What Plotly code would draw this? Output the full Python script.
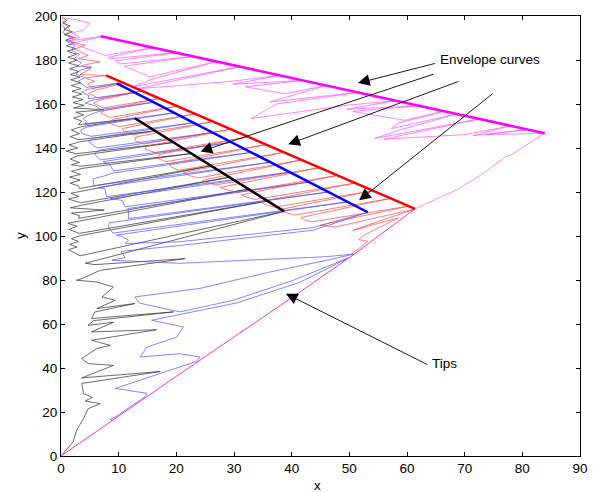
import plotly.graph_objects as go

# ---------------- data ----------------
x_ticks = [0, 10, 20, 30, 40, 50, 60, 70, 80, 90]
y_ticks = [0, 20, 40, 60, 80, 100, 120, 140, 160, 180, 200]

black_thin = [
    (0.2,199.5),(1.0,198.0),(0.3,196.8),(1.6,195.5),(0.5,194.0),(2.0,192.8),(0.6,191.5),(2.2,190.2),
    (0.8,189.0),(2.4,187.8),(0.9,186.5),(2.5,185.2),(1.1,184.0),(2.7,182.6),(1.2,181.3),(2.8,180.0),
    (1.3,178.6),(3.0,177.4),(1.5,176.0),(3.1,174.8),(1.6,173.4),(3.3,172.2),(1.7,171.0),(3.4,169.6),
    (1.8,168.4),(3.5,167.0),(1.9,165.8),(3.6,164.5),(2.0,163.2),(3.8,162.0),(2.1,160.6),(4.0,159.4),
    (2.2,158.2),(7.4,157.4),(2.6,156.3),(3.9,155.0),(2.2,153.6),(3.6,152.2),(3.0,150.6),(12.8,153.5),
    (3.4,149.6),(1.8,148.2),(3.2,146.5),(1.6,145.2),(3.0,143.8),(16.3,147.8),(3.2,142.8),(1.4,141.4),
    (2.9,140.0),(0.9,138.6),(2.6,137.4),(19.5,142.5),(2.8,136.4),(1.6,135.0),(3.2,133.4),(1.8,132.4),
    (3.4,131.7),(22.6,137.5),(3.6,130.7),(1.8,129.4),(3.4,128.0),(1.5,126.8),(3.3,125.4),(1.6,124.0),
    (3.0,122.8),(3.2,121.6),(26.0,131.9),(3.5,120.6),(1.7,119.4),(3.1,118.0),(1.3,116.8),(3.4,115.1),
    (29.2,126.7),(3.6,114.0),(1.6,112.8),(7.5,111.8),(1.8,110.4),(3.2,109.2),(3.0,108.0),(32.5,121.3),
    (3.2,107.0),(1.2,105.8),(2.8,104.4),(1.4,103.0),(3.2,101.2),(35.8,115.9),(3.4,100.2),(1.8,98.8),
    (3.0,97.5),(1.5,96.2),(2.8,95.0),(1.3,93.8),(3.3,91.0),(38.7,111.2),(4.2,87.6),(5.9,87.0),
    (21.5,89.7),(6.8,84.4),(3.6,80.6),(2.7,79.9),(6.2,79.1),(9.1,76.8),(7.1,72.3),(9.4,70.8),
    (6.2,67.0),(12.8,69.3),(5.9,65.5),(5.3,62.5),(19.5,65.5),(5.6,61.5),(4.7,59.4),(9.1,60.8),
    (5.3,56.4),(16.6,57.4),(5.3,52.6),(8.5,50.3),(6.2,48.8),(3.6,44.3),(4.7,42.0),(9.1,41.2),
    (3.6,35.5),(17.2,38.4),(3.6,33.0),(3.9,28.4),(5.4,26.6),(4.2,25.0),(6.8,23.8),(4.7,21.5),
    (3.9,17.0),(2.7,11.7),(2.1,6.4),(0.6,2.0),(0.0,0.0),
]

blue_thin = [
    (0.1,196.2),(0.8,194.0),(0.3,192.5),(1.6,190.5),(0.9,188.6),(2.4,186.6),(1.8,184.5),(3.2,182.5),
    (2.2,180.5),(3.6,178.8),(2.8,177.0),(5.3,176.8),(3.3,175.3),(2.6,173.6),(4.1,172.0),(3.0,170.4),
    (3.8,168.8),(4.4,167.5),(9.7,169.4),(4.6,166.6),(3.6,165.4),(4.8,163.8),(4.7,162.4),(12.8,165.2),
    (5.2,161.6),(4.2,160.4),(6.0,159.2),(6.8,157.5),(16.1,160.8),(6.6,156.6),(5.0,155.2),(3.8,153.4),
    (4.4,152.0),(4.2,150.6),(19.6,156.0),(4.6,149.6),(3.4,148.2),(3.6,146.6),(5.2,145.3),(23.0,151.5),
    (5.6,144.4),(4.8,143.0),(6.2,140.0),(26.3,147.0),(6.6,139.0),(5.8,137.4),(6.8,134.6),(29.6,142.6),
    (7.3,133.8),(8.4,132.6),(9.1,129.6),(33.0,138.0),(9.0,128.6),(7.4,127.2),(5.6,126.0),(5.6,122.8),
    (36.3,133.5),(6.4,122.0),(7.6,121.4),(7.9,117.9),(39.7,129.0),(8.6,117.0),(10.6,116.2),(11.1,113.3),
    (43.0,124.5),(11.6,112.5),(11.7,110.4),(11.7,107.9),(46.4,120.0),(11.0,107.0),(8.4,106.0),(8.2,104.2),
    (9.0,101.3),(49.7,115.5),(9.6,100.4),(10.5,99.8),(11.7,98.2),(11.2,96.6),(20.6,97.4),(43.7,103.8),
    (53.2,110.8),(43.7,102.6),(20.6,95.7),(10.4,93.0),(11.1,90.2),(8.8,89.0),(20.6,87.6),(46.0,90.6),
    (50.8,91.8),(46.5,89.2),(36.0,83.5),(24.1,76.2),(12.8,72.3),(13.6,69.5),(20.6,65.5),(29.9,70.8),
    (40.3,79.9),(49.8,90.0),(41.5,79.0),(30.5,69.6),(21.0,64.4),(15.7,61.7),(21.2,58.7),(20.1,54.1),
    (14.9,49.5),(13.7,45.0),(20.6,46.5),(24.1,45.0),(23.5,43.0),(20.6,40.5),(16.0,36.5),(9.4,30.7),
    (14.9,28.5),(14.6,27.0),(12.0,22.4),(9.4,17.6),(8.5,16.6),(9.0,16.2),
]

red_thin = [
    (0.2,198.5),(1.6,193.5),(0.8,191.5),(2.6,190.0),(1.4,188.5),(4.2,186.7),(2.4,185.0),(4.7,182.1),
    (3.0,180.6),(6.8,179.2),(3.6,177.5),(5.2,176.0),(3.3,173.4),(7.8,173.0),(4.2,171.8),(5.8,170.4),
    (4.6,169.0),(5.5,167.1),(10.9,169.5),(5.9,166.2),(4.8,164.8),(6.5,162.7),(14.0,166.0),(6.9,161.8),
    (5.6,160.4),(7.3,158.2),(17.0,162.5),(7.8,157.3),(6.9,155.8),(8.5,153.9),(20.1,159.0),(9.0,153.0),
    (8.2,151.4),(10.0,149.7),(23.2,155.5),(10.6,148.8),(11.0,147.4),(12.5,146.0),(26.3,152.0),(13.0,145.0),
    (12.8,143.4),(14.3,141.8),(29.3,148.5),(14.9,140.8),(14.6,139.4),(16.4,137.9),(32.4,145.0),(17.0,137.0),
    (16.8,135.4),(18.2,133.8),(35.5,141.5),(18.8,132.8),(19.0,131.4),(20.5,129.9),(38.6,138.0),(21.2,128.8),
    (22.0,127.6),(23.8,126.4),(41.6,134.5),(24.5,125.3),(25.2,124.4),(26.8,123.2),(44.7,131.0),(27.6,122.1),
    (28.8,121.0),(30.5,119.8),(47.8,127.5),(31.3,118.7),(32.0,117.8),(33.6,116.6),(50.9,124.0),(34.5,115.5),
    (35.4,114.3),(37.0,113.1),(53.9,120.5),(38.0,112.0),(38.8,110.8),(40.5,109.5),(57.0,117.0),(41.6,108.4),
    (42.2,107.4),(43.5,106.4),(60.1,113.5),(45.0,105.0),(47.5,104.0),(61.4,112.3),(50.6,102.6),(58.5,108.2),
    (52.8,100.8),(51.6,98.4),(53.2,97.6),(51.5,94.0),(50.4,92.2),
]

magenta_thin = [
    (0.2,199.3),(2.6,198.4),(5.0,196.6),(3.9,193.7),(1.9,192.2),(3.2,190.4),(1.2,188.6),(7.1,190.8),
    (2.0,187.6),(4.6,185.0),(7.6,182.1),(16.0,185.6),(8.2,181.2),(8.6,180.6),(20.0,183.3),(9.4,179.6),
    (10.2,178.2),(23.0,181.6),(11.0,177.2),(15.4,172.4),(27.0,179.3),(16.2,171.6),(12.3,167.7),(31.0,177.0),
    (13.5,167.0),(28.4,170.0),(38.0,173.0),(29.8,169.0),(42.0,170.7),(32.0,167.8),(38.8,164.7),(46.0,168.4),
    (39.6,163.6),(36.2,160.9),(51.5,165.3),(37.4,160.0),(33.0,153.4),(49.5,159.4),(58.0,161.5),(49.5,157.6),
    (62.0,159.2),(50.6,156.6),(59.6,152.6),(66.5,156.8),(58.6,151.4),(57.3,148.8),(68.6,155.5),(58.5,148.0),
    (54.4,144.3),(72.7,153.3),(56.0,144.0),(70.2,146.1),(78.0,150.1),(71.4,145.6),(81.0,148.4),(73.7,146.1),
    (83.9,146.7),(80.5,141.2),(78.1,137.4),(77.9,136.7),(77.3,136.4),(73.2,128.4),(69.0,121.5),(68.6,120.8),
    (68.2,120.5),(61.4,112.3),
]

tips_line = [(0.0,0.0),(20.6,37.3),(40.3,72.5),(51.0,92.0),(55.3,100.5),(61.4,112.3)]

env_magenta = [(6.9,190.8),(83.9,146.7)]
env_red = [(7.8,173.0),(61.4,112.3)]
env_blue = [(9.7,169.4),(53.2,110.8)]
env_black = [(12.8,153.5),(38.7,111.2)]

# arrows: (head_x, head_y, tail_x, tail_y)
env_arrows = [(51.5,169.5,65.1,178.6),(24.2,138.4,64.85,173.8),(39.4,141.7,69.2,170.5),(51.7,116.2,75.1,165.2)]
tips_arrow = (39.0,73.8,63.8,41.2)
env_label = ("Envelope curves", 65.4, 180.2)
tips_label = ("Tips", 64.0, 42.0)

# ---------------- figure ----------------
FONT = "Liberation Sans, Arial, Helvetica, sans-serif"
fig = go.Figure()

def add_line(pts, color, width):
    fig.add_trace(go.Scatter(x=[p[0] for p in pts], y=[p[1] for p in pts], mode="lines",
                             line=dict(color=color, width=width), hoverinfo="skip", showlegend=False))

add_line(black_thin, "rgb(45,45,45)", 0.7)
add_line(blue_thin, "rgb(80,80,255)", 0.7)
add_line(red_thin, "rgb(255,70,70)", 0.7)
add_line(magenta_thin, "rgb(255,100,255)", 0.8)
add_line(tips_line, "rgb(255,50,200)", 1.0)
add_line(env_magenta, "#ff00ff", 2.5)
add_line(env_red, "#ff0000", 2.5)
add_line(env_blue, "#0000ff", 2.5)
add_line(env_black, "#000000", 2.5)

annotations = []
for hx, hy, tx, ty in env_arrows + [tips_arrow]:
    annotations.append(dict(x=hx, y=hy, ax=tx, ay=ty, xref="x", yref="y", axref="x", ayref="y",
                            text="", showarrow=True, arrowhead=2, arrowsize=2.6, arrowwidth=0.9,
                            arrowcolor="black", standoff=0))
for txt, tx, ty in [env_label, tips_label]:
    annotations.append(dict(x=tx, y=ty, xref="x", yref="y", text=txt, showarrow=False,
                            xanchor="left", yanchor="middle", font=dict(family=FONT, size=13.5, color="black")))
annotations.append(dict(x=0.495, y=-0.068, xref="paper", yref="paper", text="x", showarrow=False,
                        xanchor="center", yanchor="middle", font=dict(family=FONT, size=13.5, color="black")))
annotations.append(dict(x=-0.079, y=0.502, xref="paper", yref="paper", text="y", showarrow=False,
                        textangle=-90, xanchor="center", yanchor="middle",
                        font=dict(family=FONT, size=13.5, color="black")))

axis_common = dict(showgrid=False, zeroline=False, showline=True, linecolor="black", linewidth=1,
                   mirror="ticks", ticks="inside", ticklen=4, tickwidth=1, tickcolor="black",
                   automargin=False, tickfont=dict(family=FONT, size=13.5, color="black"))
# the page body adds an 8 px offset, so the figure is 8 px smaller with a smaller top/left margin
fig.update_layout(
    width=587, height=484,
    margin=dict(l=53, r=15, t=8, b=36, autoexpand=False),
    paper_bgcolor="white", plot_bgcolor="white",
    xaxis=dict(range=[0, 90], tickvals=x_ticks, **axis_common),
    yaxis=dict(range=[0, 200], tickvals=y_ticks, **axis_common),
    annotations=annotations,
)
fig.write_html("out.html")
